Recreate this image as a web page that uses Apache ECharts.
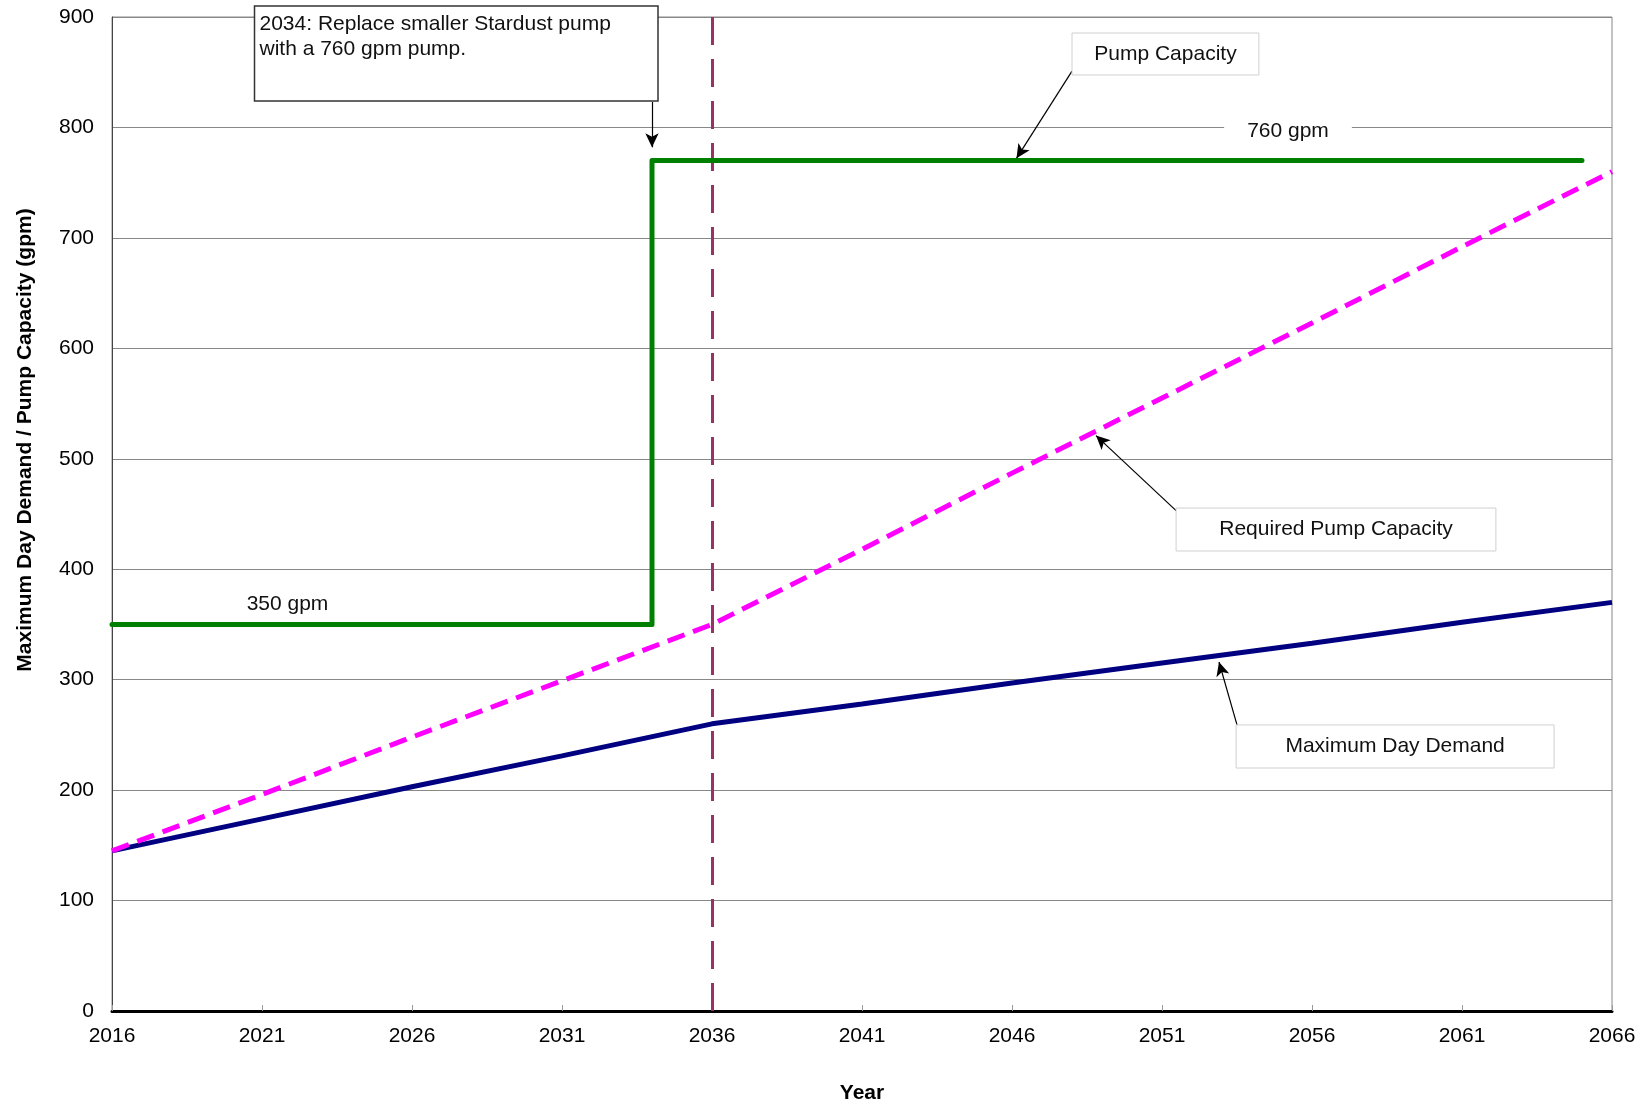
<!DOCTYPE html>
<html>
<head>
<meta charset="utf-8">
<script src="https://cdn.jsdelivr.net/npm/echarts@6/dist/echarts.min.js"></script>
<style>
  html, body { margin: 0; background: #fff; }
  #chart { width: 1648px; height: 1107px; }
</style>
</head>
<body>
<div id="chart"></div>
<script>
// x values are stored as years, the axis runs on years since 2016 so the ticks land on 2016, 2021, ...
const baseYear = 2016;
const years = [2016, 2021, 2026, 2031, 2036, 2041, 2046, 2051, 2056, 2061, 2066];
const maxDayDemand = [145, 174, 203, 231, 260, 278, 297, 315, 333, 352, 370];
const requiredCapacity = [145, 196, 248, 299, 350, 418, 487, 555, 623, 692, 760];
const pumpYears = [2016, 2034, 2034, 2065];
const pumpCapacity = [350, 350, 770, 770];
const milestoneYear = 2036;
const yTicks = [0, 100, 200, 300, 400, 500, 600, 700, 800, 900];

const FONT = '"Liberation Sans", Arial, sans-serif';
const off = (y) => y - baseYear;
const pairs = (xs, ys) => xs.map((x, i) => [off(x), ys[i]]);

// annotation boxes / arrows, in data coords (year, gpm)
const boxes = [
  { text: '2034: Replace smaller Stardust pump\nwith a 760 gpm pump.', x0: 2020.75, x1: 2034.2, y0: 910, y1: 824, stroke: '#333', lw: 1.5, align: 'left' },
  { text: 'Pump Capacity', x0: 2048.0, x1: 2054.23, y0: 885.5, y1: 847.5, stroke: '#d0d0d0', lw: 1, align: 'center' },
  { text: 'Required Pump Capacity', x0: 2051.47, x1: 2062.13, y0: 455.4, y1: 416.5, stroke: '#d0d0d0', lw: 1, align: 'center' },
  { text: 'Maximum Day Demand', x0: 2053.47, x1: 2064.07, y0: 259, y1: 220, stroke: '#d0d0d0', lw: 1, align: 'center' }
];
const arrows = [
  [[2034, 823], [2034, 782]],
  [[2048.0, 851], [2046.15, 772]],
  [[2051.47, 453], [2048.8, 521]],
  [[2053.5, 259], [2052.9, 316]]
];

const chart = echarts.init(document.getElementById('chart'));
const option = {
  animation: false,
  backgroundColor: '#fff',
  grid: { left: 112, right: 36, top: 17, bottom: 96, outerBoundsMode: 'none', show: true, borderColor: '#888', borderWidth: 1 },
  xAxis: {
    type: 'value',
    min: 0,
    max: off(2066),
    interval: 5,
    name: 'Year',
    nameLocation: 'middle',
    nameGap: 72,
    nameTextStyle: { fontFamily: FONT, fontSize: 21, fontWeight: 'bold', color: '#000' },
    axisLine: { show: true, lineStyle: { color: '#000', width: 3 } },
    axisTick: { show: true, inside: true, length: 6, lineStyle: { color: '#999' } },
    axisLabel: { formatter: (v) => String(v + baseYear), fontFamily: FONT, fontSize: 21, color: '#000', margin: 15 },
    splitLine: { show: false }
  },
  yAxis: {
    type: 'value',
    min: yTicks[0],
    max: yTicks[yTicks.length - 1],
    interval: 100,
    axisLine: { show: true, lineStyle: { color: '#444', width: 1 } },
    axisTick: { show: false },
    axisLabel: { fontFamily: FONT, fontSize: 21, color: '#000', margin: 18 },
    splitLine: { show: true, lineStyle: { color: '#888', width: 1 } }
  },
  series: [
    {
      name: 'Maximum Day Demand',
      type: 'line',
      data: pairs(years, maxDayDemand),
      symbol: 'none',
      lineStyle: { color: '#000080', width: 5 },
      z: 3
    },
    {
      name: 'Required Pump Capacity',
      type: 'line',
      data: pairs(years, requiredCapacity),
      symbol: 'none',
      lineStyle: { color: '#ff00ff', width: 5, type: [18, 9] },
      z: 4
    },
    {
      name: 'Pump Capacity',
      type: 'line',
      data: pairs(pumpYears, pumpCapacity),
      symbol: 'none',
      lineStyle: { color: '#008000', width: 5, cap: 'round', join: 'round' },
      z: 5
    },
    {
      // vertical milestone + annotation arrows
      type: 'line',
      data: [],
      z: 6,
      markLine: {
        silent: true,
        animation: false,
        label: { show: false },
        data: [
          [
            { coord: [off(milestoneYear), 0], symbol: 'none', lineStyle: { color: '#993366', width: 3, type: [28, 14] } },
            { coord: [off(milestoneYear), 900], symbol: 'none' }
          ],
          ...arrows.map(([a, b]) => [
            { coord: [off(a[0]), a[1]], symbol: 'none', lineStyle: { color: '#000', width: 1.2, type: 'solid' } },
            { coord: [off(b[0]), b[1]], symbol: 'arrow', symbolSize: [10, 14] }
          ])
        ]
      }
    }
  ]
};
chart.setOption(option);

const px = (x, y) => chart.convertToPixel({ gridIndex: 0 }, [off(x), y]);
const graphic = [];
boxes.forEach((b) => {
  const p0 = px(b.x0, b.y0);
  const p1 = px(b.x1, b.y1);
  const w = p1[0] - p0[0];
  const h = p1[1] - p0[1];
  graphic.push({
    type: 'rect',
    z: 100,
    shape: { x: p0[0], y: p0[1], width: w, height: h },
    style: { fill: '#fff', stroke: b.stroke, lineWidth: b.lw }
  });
  const left = b.align === 'left';
  graphic.push({
    type: 'text',
    z: 101,
    x: left ? p0[0] + 5 : p0[0] + w / 2,
    y: left ? p0[1] + 6 : p0[1] + h / 2,
    style: {
      text: b.text,
      fill: '#111',
      font: '21px ' + FONT,
      lineHeight: 25,
      align: left ? 'left' : 'center',
      verticalAlign: left ? 'top' : 'middle'
    }
  });
});

const lbl350 = px(2021.85, 368);
const lbl760 = px(2055.2, 797);
graphic.push(
  {
    type: 'text', z: 101, x: lbl350[0], y: lbl350[1],
    style: { text: '350 gpm', fill: '#111', font: '21px ' + FONT, align: 'center', verticalAlign: 'middle' }
  },
  {
    type: 'text', z: 101, x: lbl760[0], y: lbl760[1],
    style: { text: '760 gpm', fill: '#111', font: '21px ' + FONT, align: 'center', verticalAlign: 'middle',
      backgroundColor: '#fff', padding: [3, 23] }
  },
  {
    type: 'text', z: 101, x: 25, y: 440, rotation: Math.PI / 2,
    style: { text: 'Maximum Day Demand / Pump Capacity (gpm)', fill: '#000', font: 'bold 21px ' + FONT,
      align: 'center', verticalAlign: 'middle' }
  }
);
chart.setOption({ graphic: graphic });
</script>
</body>
</html>
